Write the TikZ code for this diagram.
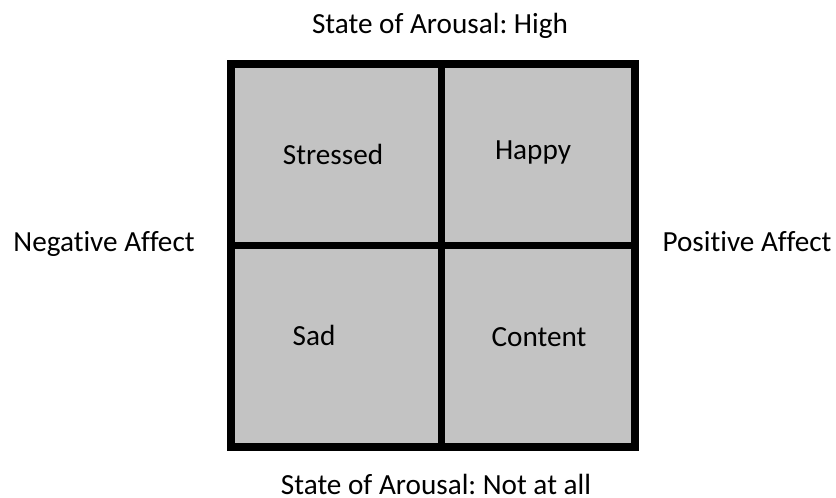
\documentclass[tikz,border=0pt]{standalone}
\usepackage{fontspec}
\setmainfont[Ligatures=NoCommon]{Carlito}
\frenchspacing
\begin{document}
\begin{tikzpicture}[x=0.75pt,y=-0.75pt,
  lbl/.style={font=\fontsize{21.9}{25}\selectfont,anchor=base,inner sep=0pt},
  divider/.style={draw=black,line width=7*0.75pt}]
\definecolor{cellgray}{RGB}{195,195,195}
\useasboundingbox (0,0) rectangle (836,497);
\fill[white] (0,0) rectangle (836,497);
\node[fill=cellgray,draw=black,minimum width=404*0.75pt,minimum height=383*0.75pt,inner sep=0pt,line width=7.5*0.75pt] (grid) at (433,255.3) {};
\coordinate (vt) at (441.7,63.7);
\coordinate (vb) at (441.7,447);
\coordinate (hl) at (231,245.5);
\coordinate (hr) at (635,245.5);
\draw[divider] (vt) -- (vb);
\draw[divider] (hl) -- (hr);
\node[lbl] (stressed) at (333,164.3) {Stressed};
\node[lbl] (happy) at (533,159.3) {Happy};
\node[lbl] (sad) at (314,345) {Sad};
\node[lbl] (content) at (539,346) {Content};
\node[lbl] (high) at (440,33.3) {State of Arousal: High};
\node[lbl] (low) at (436,494) {State of Arousal: Not at all};
\node[lbl] (neg) at (104,251.7) {Negative Affect};
\node[lbl] (pos) at (747,251.7) {Positive Affect};
\end{tikzpicture}
\end{document}
